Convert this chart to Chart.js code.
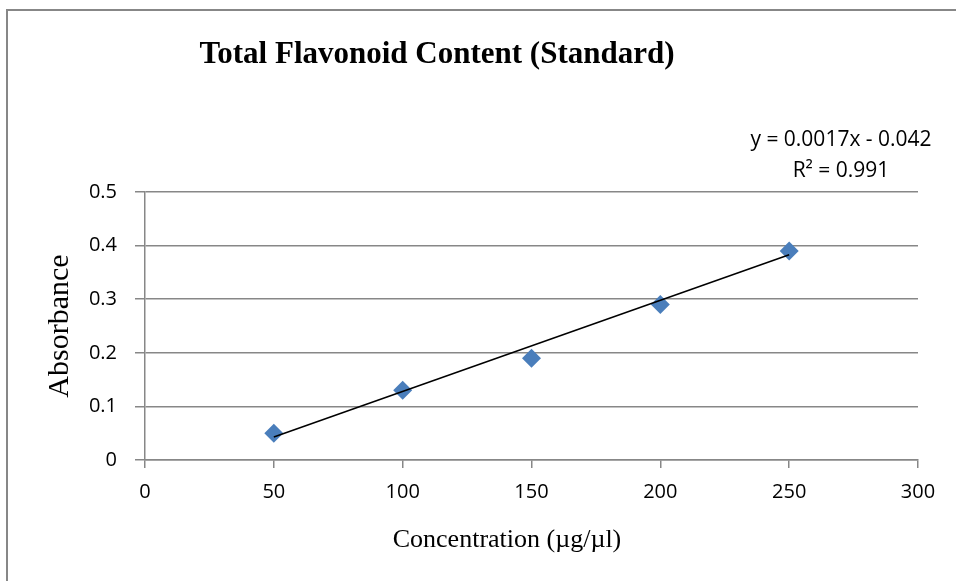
<!DOCTYPE html>
<html>
<head>
<meta charset="utf-8">
<script src="https://cdn.jsdelivr.net/npm/chart.js@4"></script>
<style>
  body { margin: 0; background: #fff; }
  #std { display: block; }
</style>
</head>
<body>
<canvas id="std" width="956" height="581"></canvas>
<script>
const concentration = [50, 100, 150, 200, 250];
const absorbance = [0.05, 0.13, 0.19, 0.29, 0.39];
const xTicks = [0, 50, 100, 150, 200, 250, 300];
const yTicks = [0, 0.1, 0.2, 0.3, 0.4, 0.5];
const trendSlope = 0.0017;
const trendIntercept = -0.042;
const equationLines = ['y = 0.0017x - 0.042', 'R² = 0.991'];

const chartTitle = 'Total Flavonoid Content (Standard)';
const xTitle = 'Concentration (µg/µl)';
const yTitle = 'Absorbance';

const gridGray = '#878787';
const markerBlue = '#4a7ebb';

// trendline drawn across the data range
const trendX = [concentration[0], concentration[concentration.length - 1]];
const trendPts = trendX.map(x => ({ x: x, y: trendSlope * x + trendIntercept }));

const pts = concentration.map((c, i) => ({ x: c, y: absorbance[i] }));

const textPlugin = {
  id: 'excelText',
  beforeDraw(chart) {
    const ctx = chart.ctx;
    ctx.save();
    // chart frame (left + top edges visible)
    ctx.strokeStyle = gridGray;
    ctx.lineWidth = 2;
    ctx.beginPath();
    ctx.moveTo(7, 581);
    ctx.lineTo(7, 10);
    ctx.lineTo(956, 10);
    ctx.stroke();
    ctx.restore();
  },
  afterDraw(chart) {
    const ctx = chart.ctx;
    ctx.save();
    ctx.fillStyle = '#000';
    ctx.textAlign = 'center';
    ctx.textBaseline = 'alphabetic';
    ctx.font = 'bold 31px "Liberation Serif"';
    ctx.fillText(chartTitle, 437, 63);

    ctx.font = '26px "Liberation Serif"';
    ctx.fillText(xTitle, 507, 547);

    ctx.font = '21px "Open Sans"';
    ctx.fillText(equationLines[0], 841, 146);
    ctx.fillText(equationLines[1], 841, 177);
    ctx.restore();
  }
};

new Chart(document.getElementById('std'), {
  type: 'scatter',
  data: {
    datasets: [
      {
        type: 'line',
        label: 'Linear',
        data: trendPts,
        borderColor: '#000',
        borderWidth: 1.5,
        pointRadius: 0,
        fill: false
      },
      {
        label: 'Absorbance',
        data: pts,
        pointStyle: 'rectRot',
        pointRadius: 9.5,
        pointHoverRadius: 9.5,
        backgroundColor: markerBlue,
        borderColor: markerBlue,
        borderWidth: 0
      }
    ]
  },
  options: {
    responsive: false,
    animation: false,
    layout: { padding: { top: 192, right: 38, left: 0, bottom: 0 } },
    plugins: {
      legend: { display: false },
      tooltip: { enabled: true }
    },
    scales: {
      x: {
        type: 'linear',
        min: xTicks[0],
        max: xTicks[xTicks.length - 1],
        afterBuildTicks: s => { s.ticks = xTicks.map(v => ({ value: v })); },
        afterFit: s => { s.height = 121; },
        grid: { drawOnChartArea: false, drawTicks: true, tickLength: 8, color: gridGray, lineWidth: 1.5 },
        border: { color: gridGray, width: 1.5 },
        ticks: { color: '#000', padding: 12, font: { family: 'Open Sans', size: 20 } }
      },
      y: {
        type: 'linear',
        min: yTicks[0],
        max: yTicks[yTicks.length - 1],
        afterBuildTicks: s => { s.ticks = yTicks.map(v => ({ value: v })); },
        afterFit: s => { s.width = 145; },
        grid: { drawOnChartArea: true, drawTicks: true, tickLength: 10, color: gridGray, lineWidth: 1.5 },
        border: { color: gridGray, width: 1.5 },
        ticks: { color: '#000', padding: 18, font: { family: 'Open Sans', size: 20 } },
        title: {
          display: true,
          text: yTitle,
          color: '#000',
          padding: { top: 42, bottom: 0 },
          font: { family: 'Liberation Serif', size: 30 }
        }
      }
    }
  },
  plugins: [textPlugin]
});
</script>
</body>
</html>
